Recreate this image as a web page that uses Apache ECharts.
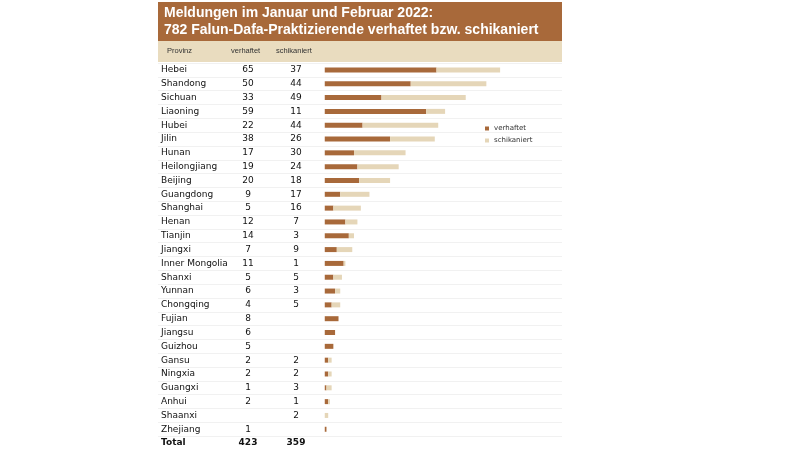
<!DOCTYPE html><html><head><meta charset="utf-8"><script src="https://cdn.jsdelivr.net/npm/echarts@6/dist/echarts.min.js"></script></head><body style="margin:0;background:#fff"><div id="c" style="width:800px;height:450px"></div><script>
const provinces=["Hebei","Shandong","Sichuan","Liaoning","Hubei","Jilin","Hunan","Heilongjiang","Beijing","Guangdong","Shanghai","Henan","Tianjin","Jiangxi","Inner Mongolia","Shanxi","Yunnan","Chongqing","Fujian","Jiangsu","Guizhou","Gansu","Ningxia","Guangxi","Anhui","Shaanxi","Zhejiang","Total"];
const verhaftet=[65,50,33,59,22,38,17,19,20,9,5,12,14,7,11,5,6,4,8,6,5,2,2,1,2,null,1,null];
const schikaniert=[37,44,49,11,44,26,30,24,18,17,16,7,3,9,1,5,3,5,null,null,null,2,2,3,1,2,null,null];
const totals=["423","359"];
const title="Meldungen im Januar und Februar 2022:\n782 Falun-Dafa-Praktizierende verhaftet bzw. schikaniert";
const headers=["Provinz","verhaftet","schikaniert"];
const chart=echarts.init(document.getElementById('c'));
const n=provinces.length;
chart.setOption({
 animation:false,
 textStyle:{fontFamily:'DejaVu Sans'},
 graphic:[
  {type:'rect',shape:{x:158,y:2,width:404,height:39},style:{fill:'#a8693a'}},
  {type:'text',left:164,top:5,style:{text:title,fill:'#fff',font:'bold 14px "Liberation Sans"',lineHeight:17}},
  {type:'rect',shape:{x:158,y:41,width:404,height:21},style:{fill:'#e9dcbf'}},
  {type:'text',left:167,top:47,style:{text:headers[0],fill:'#333',font:'7.5px "Liberation Sans"'}},
  {type:'text',left:231,top:47,style:{text:headers[1],fill:'#333',font:'7.5px "Liberation Sans"'}},
  {type:'text',left:276,top:47,style:{text:headers[2],fill:'#333',font:'7.5px "Liberation Sans"'}}
 ],
 legend:{left:480,top:120,orient:'vertical',itemWidth:4,itemHeight:4,itemGap:5,icon:'rect',textStyle:{fontSize:7,color:'#333'},data:['verhaftet','schikaniert']},
 grid:{left:158,width:404,top:63,height:n*13.85},
 xAxis:{type:'value',min:-97,max:138,show:false},
 yAxis:{type:'category',inverse:true,data:provinces,axisLine:{show:false},axisTick:{show:false},
  splitLine:{show:true,interval:0,lineStyle:{color:'#e8e8e8',width:0.6}},
  axisLabel:{inside:true,interval:0,margin:3,align:'left',formatter:(v,i)=>{
    if(v==='Total')return '{t|Total}{tb|'+totals[0]+'}{tc|'+totals[1]+'}';
    const a=verhaftet[i]==null?'':verhaftet[i],b=schikaniert[i]==null?'':schikaniert[i];
    return '{a|'+v+'}{b|'+a+'}{c|'+b+'}';},
   rich:{a:{width:75,fontSize:9,color:'#111'},b:{width:24,align:'center',fontSize:9,color:'#111'},c:{width:72,align:'center',fontSize:9,color:'#111'},
     t:{width:75,fontSize:9,fontWeight:'bold',color:'#111'},tb:{width:24,align:'center',fontSize:9,fontWeight:'bold',color:'#111'},tc:{width:72,align:'center',fontSize:9,fontWeight:'bold',color:'#111'}}}},
 series:[
  {name:'verhaftet',type:'bar',stack:'s',barWidth:5,data:verhaftet,itemStyle:{color:'#a8693a'}},
  {name:'schikaniert',type:'bar',stack:'s',barWidth:5,data:schikaniert,itemStyle:{color:'#e5d6b8'}}
 ]
});
</script></body></html>
